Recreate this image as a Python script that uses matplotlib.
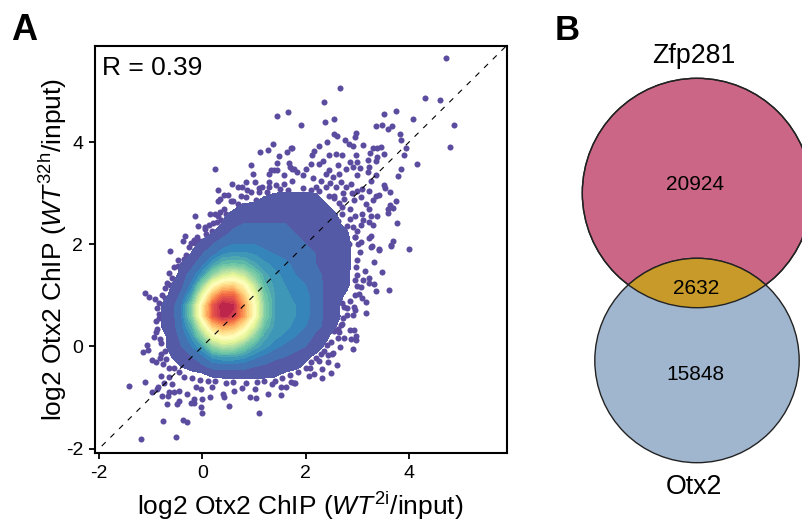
import numpy as np
import matplotlib
matplotlib.use('Agg')
import matplotlib.pyplot as plt
from matplotlib.patches import Circle

plt.rcParams['font.family'] = ['Liberation Sans', 'DejaVu Sans']
plt.rcParams['mathtext.fontset'] = 'custom'
plt.rcParams['mathtext.rm'] = 'Liberation Sans'
plt.rcParams['mathtext.it'] = 'Liberation Sans:italic'
plt.rcParams['axes.unicode_minus'] = False

# panel A: density, 0 is the edge of the solid cloud
grid_x = [-1.0, -0.8, -0.6, -0.4, -0.2, 0.0, 0.2, 0.4, 0.6, 0.8, 1.0,
          1.2, 1.4, 1.6, 1.8, 2.0, 2.2, 2.4, 2.6, 2.8, 3.0, 3.2]
grid_y = [3.2, 3.0, 2.8, 2.6, 2.4, 2.2, 2.0, 1.8, 1.6, 1.4, 1.2,
          1.0, 0.8, 0.6, 0.4, 0.2, 0.0, -0.2, -0.4, -0.6, -0.8]
density = [
    [-10, -10, -10, -10, -10, -10, -10, -10, -10, -10, -10, -10, -10, -10, -10, -10, -10, -10, -10, -10, -10, -10],
    [-10, -10, -10, -10, -10, -10, -10, -10, -10, -10, -10, -1, 0, 1, 1, 1, 0, -2, -8, -10, -10, -10],
    [-10, -10, -10, -10, -10, -10, -10, -10, -4, 0, 1, 2, 2, 2, 2, 2, 1, 0, -4, -10, -10, -10],
    [-10, -10, -10, -10, -10, -10, -10, -2, 2, 2, 2, 3, 3, 3, 3, 2, 2, 1, 0, -8, -10, -10],
    [-10, -10, -10, -10, -10, -10, -5, 1, 3, 4, 4, 4, 4, 4, 3, 3, 2, 2, 1, -2, -10, -10],
    [-10, -10, -10, -10, -10, -3, 1, 3, 5, 6, 6, 5, 5, 5, 4, 4, 3, 2, 1, 1, -5, -10],
    [-10, -10, -10, -10, -2, 2, 4, 6, 8, 8, 8, 7, 6, 6, 5, 4, 3, 2, 2, 1, -2, -10],
    [-10, -10, -10, -5, 1, 4, 7, 11, 12, 12, 11, 9, 8, 7, 6, 5, 4, 3, 2, 1, -2, -10],
    [-10, -10, -5, 1, 3, 7, 14, 20, 21, 20, 15, 12, 10, 9, 7, 6, 4, 3, 2, 1, -2, -10],
    [-10, -10, -3, 2, 6, 13, 26, 36, 40, 34, 24, 15, 12, 10, 8, 7, 5, 3, 2, 1, -3, -10],
    [-10, -10, 0, 3, 9, 26, 48, 60, 62, 52, 34, 18, 13, 11, 9, 8, 6, 3, 2, 1, -4, -10],
    [-10, -2, 1, 5, 15, 42, 68, 82, 82, 64, 44, 22, 14, 12, 10, 9, 6, 3, 2, -1, -8, -10],
    [-10, 0, 2, 8, 24, 55, 84, 96, 93, 72, 50, 24, 14, 12, 11, 9, 6, 3, 1, -3, -10, -10],
    [-10, 0, 2, 8, 24, 56, 84, 94, 90, 72, 50, 24, 14, 12, 11, 9, 6, 3, 1, -2, -10, -10],
    [-5, 0, 2, 7, 17, 40, 64, 72, 68, 56, 38, 20, 13, 12, 10, 8, 5, 3, 0, -5, -10, -10],
    [-10, -2, 2, 5, 12, 26, 44, 52, 50, 40, 26, 15, 12, 10, 8, 6, 3, 1, -3, -10, -10, -10],
    [-10, -1, 1, 4, 8, 14, 26, 32, 30, 23, 16, 12, 9, 7, 5, 4, 2, -1, -10, -10, -10, -10],
    [-10, -5, 0, 2, 4, 7, 12, 14, 14, 12, 9, 7, 5, 4, 3, 1, -1, -10, -10, -10, -10, -10],
    [-10, -10, -4, 0, 2, 3, 5, 5, 5, 5, 4, 3, 2, 2, 1, -1, -10, -10, -10, -10, -10, -10],
    [-10, -10, -10, -6, -3, -2, 0, 1, 1, 1, 1, 1, 0, -2, -3, -8, -10, -10, -10, -10, -10, -10],
    [-10, -10, -10, -10, -10, -10, -10, -10, -10, -10, -10, -10, -10, -10, -10, -10, -10, -10, -10, -10, -10, -10],
]
density_levels = [0, 4, 8, 11, 14, 17, 20, 23, 26, 29, 32, 35, 38, 41, 44, 47, 50, 53,
                  56, 59, 62, 65, 68, 71, 74, 77, 80, 83, 86, 89, 92, 96]

# single points that stand apart from the cloud (log2 x, log2 y)
top_points = [
    (1.45, 4.52), (1.65, 4.60), (0.25, 3.47), (1.36, 3.96), (1.27, 3.84), (1.12, 3.80), (1.72, 3.88),
    (1.63, 3.80), (1.49, 3.73), (0.95, 3.56), (1.45, 3.60), (0.98, 3.38), (1.67, 3.59), (1.33, 3.46),
    (1.39, 3.46), (1.45, 3.46), (1.29, 3.38), (1.69, 3.52), (1.74, 3.48), (1.58, 3.36), (0.84, 3.23),
    (1.02, 3.23), (0.58, 3.19), (0.69, 3.13), (0.77, 3.13), (0.87, 3.07), (1.10, 3.11), (1.29, 3.23),
    (0.30, 3.07), (0.42, 2.97), (0.50, 2.97), (0.34, 2.89), (0.30, 2.85), (0.60, 2.84), (-0.15, 2.55),
    (0.14, 2.60), (0.25, 2.60), (0.34, 2.63), (-0.09, 2.35), (0.13, 2.37), (0.05, 2.34), (0.29, 2.43),
    (-0.34, 2.17), (-0.37, 2.06), (-0.16, 2.09), (-0.14, 2.02), (-0.23, 2.03), (0.08, 2.14), (0.00, 2.07),
    (0.84, 2.92), (1.03, 2.87), (1.16, 3.12), (1.29, 3.12), (1.42, 3.17), (1.58, 3.18), (1.74, 3.25),
    (1.84, 3.41), (0.68, 2.79), (0.45, 2.60), (0.36, 2.47), (0.19, 2.27), (0.07, 2.20), (-0.06, 2.07),
]
upper_right_points = [
    (4.72, 5.65), (2.67, 5.06), (4.32, 4.87), (4.61, 4.83), (2.35, 4.78), (3.51, 4.56), (3.75, 4.62),
    (4.08, 4.46), (2.38, 4.39), (2.54, 4.45), (1.91, 4.33), (3.36, 4.31), (3.47, 4.34), (3.59, 4.25),
    (3.67, 4.31), (4.87, 4.33), (3.82, 4.16), (3.85, 4.05), (2.54, 4.16), (2.61, 4.13), (2.98, 4.18),
    (2.95, 4.11), (2.42, 4.00), (2.77, 4.05), (2.84, 3.97), (2.91, 3.92), (3.11, 3.95), (4.79, 3.90),
    (3.95, 3.88), (3.90, 3.75), (1.73, 3.88), (2.25, 3.92), (2.16, 3.82), (2.12, 3.75), (3.31, 3.88),
    (3.46, 3.90), (3.39, 3.88), (3.25, 3.79), (3.52, 3.77), (3.39, 3.71), (3.37, 3.63), (4.15, 3.57),
    (3.84, 3.48), (3.78, 3.33), (3.51, 3.16), (3.53, 3.10), (3.63, 3.02), (3.75, 2.84), (3.64, 2.78),
    (3.60, 2.69), (3.60, 2.61), (3.70, 2.71), (3.76, 2.41), (3.70, 2.07), (3.66, 1.97), (4.01, 1.91),
    (2.33, 3.64), (2.46, 3.74), (2.58, 3.77), (2.71, 3.74), (2.97, 3.74), (3.00, 3.61), (2.91, 3.51),
    (3.20, 3.65), (3.23, 3.51), (3.21, 3.41), (3.37, 3.35), (3.26, 3.25), (3.10, 3.09), (3.23, 3.05),
    (3.36, 2.95), (3.42, 2.97), (3.30, 2.86), (3.17, 2.79), (3.07, 2.92), (2.94, 2.86), (3.00, 3.35),
    (2.78, 3.48), (2.65, 3.38), (2.52, 3.31), (2.39, 3.38), (2.26, 3.58), (2.10, 3.58), (2.00, 3.48),
    (1.94, 3.35), (1.78, 3.48), (3.23, 2.69), (3.10, 2.60), (3.26, 2.56), (3.39, 2.55), (3.23, 2.43),
    (3.30, 2.37), (3.07, 2.37), (3.00, 2.27), (3.26, 2.17), (3.23, 2.12), (2.91, 2.33), (2.78, 2.14),
    (3.07, 2.04), (3.26, 1.95), (3.42, 1.90), (2.84, 2.01), (2.52, 2.60), (2.39, 2.56), (2.71, 2.73),
    (2.58, 3.12), (2.78, 3.12), (2.39, 3.12), (2.26, 3.05),
    (2.45, 3.45), (2.62, 3.55), (2.85, 3.62), (3.05, 3.50), (2.15, 3.30), (2.30, 3.25), (2.48, 3.20),
    (2.68, 3.22), (2.88, 3.18), (3.00, 3.05), (2.90, 3.00), (2.72, 3.00), (2.55, 2.95), (2.75, 2.88),
    (2.85, 2.70), (2.95, 2.55), (3.12, 2.48), (2.62, 2.45), (2.95, 2.15),
]
lower_right_points = [
    (3.43, 1.89), (3.66, 1.98), (3.28, 1.96), (3.33, 1.65), (3.48, 1.45), (3.14, 1.48), (3.11, 1.30),
    (3.23, 1.34), (3.22, 1.25), (3.33, 1.22), (3.37, 1.09), (3.61, 1.10), (3.00, 1.19), (3.07, 1.17),
    (3.04, 1.03), (3.09, 0.95), (3.17, 0.88), (2.94, 0.77), (2.95, 0.71), (3.17, 0.65), (2.91, 0.61),
    (2.81, 0.62), (2.86, 0.33), (2.94, 0.33), (2.97, 0.21), (2.97, 0.13), (2.87, 0.14), (2.75, 0.16),
    (2.62, 0.16), (2.66, -0.01), (2.91, -0.05), (2.52, -0.12), (2.44, -0.16), (2.51, -0.15), (2.44, -0.31),
    (2.60, -0.37), (2.36, -0.08), (2.25, -0.28), (2.31, -0.45), (2.50, -0.52), (2.31, -0.61), (2.17, -0.54),
    (2.07, -0.57), (2.09, -0.43), (1.80, -0.71), (1.71, -0.69), (2.71, 0.86), (2.75, 0.77), (2.71, 0.44),
    (2.62, 0.34), (2.65, 0.28),
]
lower_left_points = [
    (-1.43, -0.78), (-1.11, -0.69), (-1.18, -1.81), (-0.52, -1.78), (-0.76, -1.46), (-0.37, -1.44),
    (-0.30, -1.48), (-0.01, -1.30), (1.09, -1.31), (0.52, -1.16), (-0.03, -1.18), (-0.68, -1.12),
    (-0.50, -1.12), (-0.46, -1.06), (-0.23, -1.10), (-0.16, -1.10), (-0.16, -1.03), (0.00, -1.02),
    (0.14, -0.98), (0.39, -0.93), (0.42, -0.99), (0.61, -0.88), (0.92, -0.98), (1.03, -1.00), (1.02, -0.84),
    (1.28, -0.93), (1.52, -0.95), (0.76, -0.82), (-0.79, -0.96), (-0.98, -0.89), (-0.86, -0.80),
    (-0.65, -0.89), (-0.66, -0.97), (-0.55, -0.90), (-0.45, -0.87), (-0.29, -0.93), (-0.13, -0.79),
    (-0.03, -0.84), (0.19, -0.80), (1.61, -0.79), (1.52, -0.79), (1.78, -0.71), (1.34, -0.74),
    (-1.12, 1.05), (-1.03, 0.97), (-0.92, 0.93), (-0.79, 1.01), (-0.65, 1.43), (-0.72, 1.14), (-0.63, 1.20),
    (-0.87, 0.75), (-0.84, 0.63), (-0.89, 0.49), (-0.89, 0.29), (-0.94, 0.19), (-1.08, 0.03), (-1.05, -0.07),
    (-1.16, -0.11), (-0.81, 0.06), (-0.73, -0.08), (-0.97, -0.27), (-0.90, -0.31), (-0.83, -0.23),
    (-0.76, -0.35), (-0.65, -0.42), (-0.81, -0.58), (-0.65, -0.59), (-0.74, -0.71), (-0.58, -0.74),
    (-0.87, -0.84), (-0.47, 1.58), (-0.63, 1.86), (-0.36, 1.71),
]
# points sitting on the rim of the solid cloud
rim_points = [
    (0.55, 2.85), (0.75, 2.95), (0.95, 3.02), (1.10, 3.02), (1.25, 3.02), (1.50, 3.08), (1.65, 3.06),
    (1.95, 3.10), (2.10, 3.06), (2.20, 3.12), (2.45, 2.95), (2.55, 2.90), (2.65, 2.80), (2.70, 2.60),
    (2.85, 2.50), (2.80, 2.35), (2.95, 2.15), (3.02, 2.00), (3.05, 1.85), (3.00, 1.70), (2.98, 1.55),
    (3.00, 1.40), (2.96, 1.30), (2.95, 1.00), (2.85, 0.90), (2.80, 0.75), (2.72, 0.55), (2.68, 0.42),
    (2.55, 0.30), (2.50, 0.08), (2.42, 0.02), (2.30, -0.15), (2.20, -0.22), (2.10, -0.30), (2.00, -0.42),
    (1.85, -0.50), (1.70, -0.55), (1.55, -0.62), (1.40, -0.68), (1.20, -0.68), (1.05, -0.70), (0.85, -0.72),
    (0.60, -0.70), (0.45, -0.72), (0.25, -0.68), (0.10, -0.68), (-0.05, -0.65), (-0.20, -0.62), (-0.35, -0.60),
    (-0.45, -0.50), (-0.55, -0.42), (-0.70, -0.25), (-0.80, -0.15), (-0.82, 0.15), (-0.88, 0.35), (-0.85, 0.55),
    (-0.85, 0.85), (-0.72, 0.95), (-0.68, 1.25), (-0.58, 1.35), (-0.55, 1.55), (-0.48, 1.70), (-0.32, 1.80),
    (-0.25, 1.95), (-0.10, 2.15), (0.05, 2.30), (0.20, 2.42), (0.30, 2.55), (0.42, 2.70),
]

axis_ticks = [-2, 0, 2, 4]
diagonal = [-1.95, 5.89]

# panel B
venn_labels = ['Zfp281', 'Otx2']
venn_counts = [20924, 2632, 15848]

fig = plt.figure(figsize=(8.03, 5.23), dpi=100)
W, H = 803.0, 523.0

# overlay in pixels for the venn and the panel letters
bg = fig.add_axes([0, 0, 1, 1])
bg.set_xlim(0, W)
bg.set_ylim(H, 0)
bg.axis('off')

top = Circle((697, 193), 114.7, fc='#CC6686', ec='#222222', lw=1.0)
bottom = Circle((697, 360.5), 102.2, fc='#A0B6CE', ec='#222222', lw=1.0)
bg.add_patch(top)
bg.add_patch(bottom)
overlap = Circle((697, 360.5), 102.2, fc='#C89A2A', ec='#222222', lw=1.0)
bg.add_patch(overlap)
overlap.set_clip_path(Circle((697, 193), 114.7, transform=bg.transData))
edge = Circle((697, 193), 114.7, fc='none', ec='#222222', lw=1.0)
bg.add_patch(edge)

bg.text(693.5, 56, venn_labels[0], fontsize=19.3, ha='center', va='center')
bg.text(694, 487.5, venn_labels[1], fontsize=19.3, ha='center', va='center')
bg.text(695, 184, str(venn_counts[0]), fontsize=15, ha='center', va='center')
bg.text(696, 288, str(venn_counts[1]), fontsize=15, ha='center', va='center')
bg.text(695, 374.5, str(venn_counts[2]), fontsize=15, ha='center', va='center')
bg.text(11, 31, 'A', fontsize=26, fontweight='bold', ha='left', va='center')
bg.text(555, 30, 'B', fontsize=25, fontweight='bold', ha='left', va='center')

# panel A
ax = fig.add_axes([95 / W, 1 - 452.7 / H, 411.5 / W, 407 / H])
all_points = np.array(top_points + upper_right_points + lower_right_points + lower_left_points + rim_points)
ax.scatter(all_points[:, 0], all_points[:, 1], s=19, color='#5B4CA0', linewidths=0, zorder=1)
ax.contourf(grid_x, grid_y, density, levels=density_levels, cmap='Spectral_r',
            vmin=0, vmax=100, extend='max', zorder=2)
ax.plot(diagonal, diagonal, color='black', lw=0.8, dashes=(5, 6), zorder=3)
ax.text(0.017, 0.945, 'R = 0.39', transform=ax.transAxes, fontsize=19, va='center', ha='left')

ax.set_xlim(-2.08, 5.89)
ax.set_ylim(-2.08, 5.89)
ax.set_xticks(axis_ticks)
ax.set_yticks(axis_ticks)
ax.tick_params(labelsize=14, length=4.5, width=1.3, pad=4)
for spine in ax.spines.values():
    spine.set_linewidth(1.5)
ax.set_xlabel(r'log2 Otx2 ChIP ($\mathit{WT}^{\mathrm{2i}}$/input)', fontsize=19, labelpad=6)
ax.set_ylabel(r'log2 Otx2 ChIP ($\mathit{WT}^{\mathrm{32h}}$/input)', fontsize=19, labelpad=-2)
ax.patch.set_alpha(0)

fig.savefig('out.png', dpi=100)
